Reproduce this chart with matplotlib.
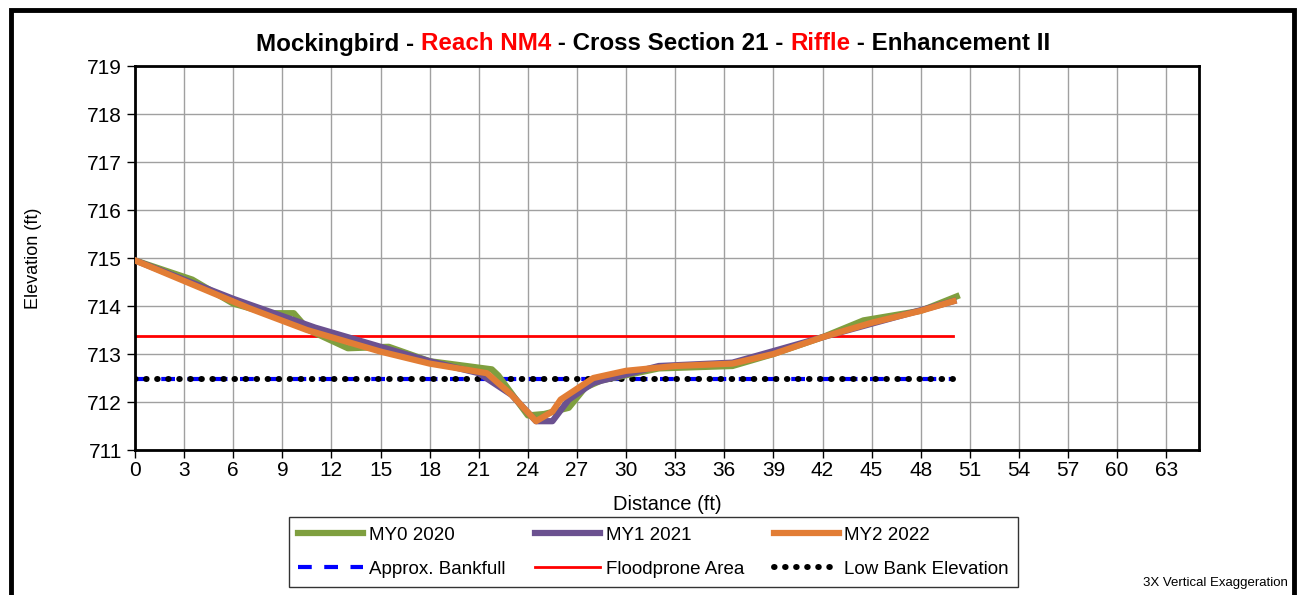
import matplotlib
matplotlib.use("Agg")
import matplotlib.pyplot as plt
from matplotlib.patches import Rectangle

plt.rcParams['font.family'] = ['Liberation Sans', 'DejaVu Sans']

# Survey data: distance (ft) and elevation (ft)
my0_x = [0, 3.5, 6, 8.1, 9.7, 10.6, 13, 15.5, 18, 21.8, 22.2, 24, 25, 26.5, 27.5, 28.5, 32, 36.5, 39, 42, 44.5, 48, 50.2]
my0_y = [714.95, 714.55, 714.05, 713.85, 713.85, 713.5, 713.12, 713.15, 712.85, 712.68, 712.55, 711.72, 711.75, 711.88, 712.3, 712.45, 712.7, 712.75, 713.0, 713.35, 713.7, 713.9, 714.2]

my1_x = [0, 6, 11, 15, 18, 21, 23, 24.5, 25.5, 26.5, 28, 32, 36.5, 42, 50]
my1_y = [714.95, 714.15, 713.55, 713.15, 712.85, 712.6, 712.15, 711.6, 711.6, 712.05, 712.4, 712.75, 712.82, 713.35, 714.1]

my2_x = [0, 3.5, 7, 10.5, 15, 18, 21.5, 23, 24.5, 25.5, 26, 28, 30, 33, 36.5, 39, 42, 45, 48, 50]
my2_y = [714.95, 714.45, 713.95, 713.5, 713.05, 712.8, 712.6, 712.15, 711.6, 711.8, 712.05, 712.5, 712.65, 712.75, 712.8, 713.0, 713.35, 713.65, 713.9, 714.1]

bankfull_x = [0, 50]
bankfull_elev = 712.47
floodprone_x = [0, 50]
floodprone_elev = 713.37
lowbank_x = [0, 50]
lowbank_elev = 712.47

x_ticks = list(range(0, 64, 3))
y_ticks = list(range(711, 720))

title_parts = [("Mockingbird - ", "black"), ("Reach NM4", "red"), (" - Cross Section 21 - ", "black"),
               ("Riffle", "red"), (" - Enhancement II", "black")]

fig = plt.figure(figsize=(12.99, 5.95), dpi=100)
ax = fig.add_axes([135 / 1299, 1 - 450 / 595, (1199 - 135) / 1299, (450 - 66) / 595])

ax.set_xlim(0, 65)
ax.set_ylim(711, 719)
ax.set_xticks(x_ticks)
ax.set_yticks(y_ticks)
ax.grid(True, color="#a0a0a0", linewidth=1.0)
ax.set_axisbelow(True)
for s in ax.spines.values():
    s.set_linewidth(2)
    s.set_color("black")
ax.tick_params(axis="both", labelsize=15, length=6, width=1, direction="out", color="black")
ax.tick_params(axis="x", pad=2)

c0, c1, c2 = "#7f9f3f", "#6b5190", "#e27d35"
ax.plot(my0_x, my0_y, color=c0, lw=4.5, solid_joinstyle="round", zorder=3, label="MY0 2020")
ax.plot(my1_x, my1_y, color=c1, lw=4.5, solid_joinstyle="round", zorder=4, label="MY1 2021")
ax.plot(my2_x, my2_y, color=c2, lw=4.5, solid_joinstyle="round", zorder=5, label="MY2 2022")

ax.plot(bankfull_x, [bankfull_elev] * 2, color="#0000ff", lw=3, dashes=(3.3, 3.0), zorder=2,
        label="Approx. Bankfull")
ax.plot(floodprone_x, [floodprone_elev] * 2, color="#ff0000", lw=2, zorder=2, label="Floodprone Area")
ax.plot(lowbank_x, [lowbank_elev] * 2, color="black", lw=4.3, dashes=(0.1, 1.75), dash_capstyle="round",
        zorder=2.5, label="Low Bank Elevation")

ax.set_xlabel("Distance (ft)", fontsize=14.5, labelpad=11)
ax.set_ylabel("Elevation (ft)", fontsize=13, labelpad=32)

handles, labels = ax.get_legend_handles_labels()
order = [0, 3, 1, 4, 2, 5]
leg = fig.legend([handles[i] for i in order], [labels[i] for i in order], ncol=3,
                 loc="upper left", bbox_to_anchor=(289 / 1299, 1 - 517 / 595),
                 fontsize=13.5, frameon=True, fancybox=False, edgecolor="black",
                 handlelength=3.45, handletextpad=0.3, borderpad=0.5, labelspacing=0.9,
                 columnspacing=1.6, borderaxespad=0)
leg.get_frame().set_linewidth(1)

# Title built from coloured pieces, centred over the plot
renderer = fig.canvas.get_renderer()
texts = []
for s, c in title_parts:
    t = fig.text(0, 1 - 44 / 595, s, color=c, fontsize=17.4, fontweight="bold", va="center", ha="left")
    texts.append(t)
widths = [t.get_window_extent(renderer).width for t in texts]
cur = 653 - sum(widths) / 2
for t, w in zip(texts, widths):
    t.set_x(cur / 1299)
    cur += w

fig.text(1288 / 1299, 1 - 583 / 595, "3X Vertical Exaggeration", fontsize=9.5, ha="right", va="center")

# Outer chart frame
fig.add_artist(Rectangle((11 / 1299, -0.05), (1294 - 11) / 1299, 1.05 - 10 / 595,
                         transform=fig.transFigure, fill=False, edgecolor="black", linewidth=3.5))

fig.savefig("out.png", dpi=100)
